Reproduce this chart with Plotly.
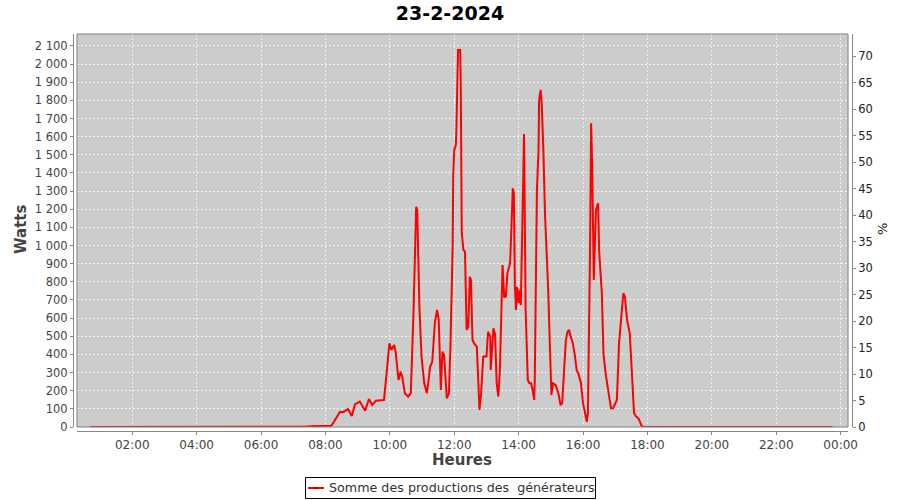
import plotly.graph_objects as go

DATE = "2024-02-23"

# Night (before production)
times_am = ["00:41", "01:00", "01:20", "01:40", "02:00", "02:20", "02:40", "03:00", "03:20", "03:40",
            "04:00", "04:20", "04:40", "05:00", "05:20", "05:40", "06:00", "06:20", "06:40", "07:00",
            "07:20", "07:40", "08:00", "08:10"]
values_am = [0, 0, 0, 0, 2, 0, 0, 0, 0, 0,
             2, 0, 0, 0, 0, 0, 0, 0, 0, 0,
             2, 5, 6, 5]

# Daytime production
times_day = ["08:14", "08:27", "08:33", "08:42", "08:49", "08:55", "09:04", "09:14", "09:21", "09:27",
             "09:34", "09:42", "09:49", "09:54", "09:59", "10:03", "10:08", "10:11", "10:16", "10:20",
             "10:23", "10:28", "10:34", "10:39", "10:44", "10:49", "10:51", "10:55", "10:59", "11:04",
             "11:09", "11:15", "11:19", "11:24", "11:28", "11:31", "11:35", "11:38", "11:41", "11:46",
             "11:50", "11:53", "11:57", "11:58", "12:00", "12:03", "12:04", "12:07", "12:11", "12:12",
             "12:14", "12:17", "12:20", "12:23", "12:26", "12:29", "12:31", "12:34", "12:37", "12:42",
             "12:45", "12:47", "12:50", "12:54", "13:00", "13:03", "13:07", "13:08", "13:13", "13:16",
             "13:19", "13:22", "13:25", "13:28", "13:30", "13:33", "13:36", "13:39", "13:44", "13:47",
             "13:49", "13:51", "13:53", "13:55", "13:57", "14:00", "14:02", "14:04", "14:07", "14:10",
             "14:13", "14:17", "14:20", "14:23", "14:26", "14:29", "14:30", "14:34", "14:37", "14:38",
             "14:41", "14:43", "14:46", "14:49", "14:55", "14:58", "15:00", "15:01", "15:04", "15:09",
             "15:14", "15:18", "15:21", "15:24", "15:28", "15:31", "15:34", "15:37", "15:41", "15:45",
             "15:48", "15:52", "15:56", "16:00", "16:05", "16:07", "16:09", "16:11", "16:13", "16:15",
             "16:17", "16:20", "16:22", "16:24", "16:28", "16:30", "16:35", "16:38", "16:42", "16:47",
             "16:52", "16:56", "17:03", "17:07", "17:12", "17:15", "17:18", "17:22", "17:27", "17:29",
             "17:32", "17:35", "17:39", "17:43", "17:46", "17:49"]
values_day = [20, 84, 82, 99, 60, 125, 140, 90, 154, 121,
              145, 149, 149, 298, 461, 424, 452, 408, 259, 305,
              277, 186, 167, 187, 627, 1214, 1196, 663, 388, 241,
              186, 332, 360, 580, 645, 590, 204, 415, 397, 158,
              186, 461, 994, 1380, 1527, 1555, 1647, 2078, 2078, 1913,
              1068, 976, 966, 535, 553, 828, 810, 480, 461, 443,
              167, 94, 186, 388, 388, 525, 498, 314, 544, 510,
              241, 167, 314, 718, 893, 718, 718, 847, 902, 1141,
              1316, 1288, 773, 645, 773, 682, 755, 672, 1159, 1615,
              645, 259, 241, 241, 204, 149, 259, 1306, 1527, 1800,
              1858, 1780, 1527, 1178, 755, 498, 241, 176, 241, 231,
              186, 121, 130, 296, 480, 525, 535, 498, 461, 388,
              314, 287, 241, 130, 57, 29, 76, 424, 976, 1674,
              1435, 810, 976, 1196, 1233, 966, 737, 406, 296, 186,
              103, 103, 149, 461, 663, 737, 718, 590, 516, 406,
              204, 76, 57, 48, 29, 6]

# Evening (after production)
times_pm = ["17:52", "18:00", "18:10", "18:20", "18:40", "19:00", "19:20", "19:40", "20:00", "20:20",
            "20:40", "21:00", "21:20", "21:40", "22:00", "22:20", "22:40", "23:00", "23:20", "23:40", "23:45"]
values_pm = [0, 0, 3, 2, 0, 0, 0, 0, 2, 0,
             0, 0, 0, 0, 0, 2, 0, 3, 0, 0, 0]

w_tick_vals = list(range(0, 2101, 100))
w_tick_text = ["0", "100", "200", "300", "400", "500", "600", "700", "800", "900",
               "1 000", "1 100", "1 200", "1 300", "1 400", "1 500", "1 600", "1 700", "1 800", "1 900",
               "2 000", "2 100"]
pct_tick_vals = list(range(0, 71, 5))

series_name = "Somme des productions des  générateurs"

times = [f"{DATE} {t}" for t in times_am + times_day + times_pm]
values = values_am + values_day + values_pm

FONT = "DejaVu Sans"
TICKC = "#444444"
AXC = "#888888"

fig = go.Figure()
fig.add_trace(go.Scatter(
    x=times, y=values, mode="lines",
    line=dict(color="#ff0000", width=2),
    name=series_name, showlegend=False,
))
fig.add_trace(go.Scatter(x=[None], y=[None], yaxis="y2", showlegend=False, hoverinfo="skip"))

PW = 779.0
PH = 397.0


def px(x):
    return (x - 73) / PW


def py(y):
    return (431 - y) / PH


fig.update_layout(
    width=900, height=500,
    margin=dict(l=73, r=48, t=34, b=69, autoexpand=False),
    paper_bgcolor="white",
    plot_bgcolor="#cccccc",
    font=dict(family=FONT, size=12, color=TICKC),
    title=dict(text="<b>23-2-2024</b>", x=0.5, xref="container", xanchor="center",
               y=1 - 13 / 500, yref="container", yanchor="middle",
               font=dict(family=FONT, size=19, color="#000000")),
    xaxis=dict(
        type="date",
        domain=[4 / PW, 775 / PW],
        anchor="free", position=0,
        range=[f"{DATE} 00:17", "2024-02-24 00:13:40"],
        tick0=f"{DATE} 00:00", dtick=7200000, tickformat="%H:%M",
        showline=True, linecolor=AXC, linewidth=1,
        ticks="outside", ticklen=3, tickcolor=AXC,
        showgrid=True, gridcolor="#f2f2f2", griddash="2px,2px", gridwidth=1,
        zeroline=False, tickfont=dict(size=12, color=TICKC), automargin=False,
    ),
    yaxis=dict(
        domain=[4 / PH, 1],
        anchor="free", position=0,
        range=[0, 2166],
        tickmode="array", tickvals=w_tick_vals, ticktext=w_tick_text,
        showline=True, linecolor=AXC, linewidth=1,
        ticks="outside", ticklen=3, tickcolor=AXC,
        showgrid=True, gridcolor="#f2f2f2", griddash="2px,2px", gridwidth=1,
        zeroline=False, tickfont=dict(size=11.5, color=TICKC), automargin=False,
    ),
    yaxis2=dict(
        overlaying="y", side="right",
        anchor="free", position=1,
        range=[0, 74.15],
        tickmode="array", tickvals=pct_tick_vals,
        showline=True, linecolor=AXC, linewidth=1,
        ticks="outside", ticklen=3, tickcolor=AXC,
        showgrid=False, zeroline=False,
        tickfont=dict(size=11.5, color="#222222"), automargin=False,
    ),
    showlegend=False,
    shapes=[
        dict(type="rect", xref="x domain", yref="y domain", x0=0, x1=1, y0=0, y1=1,
             line=dict(color="#808080", width=1), fillcolor="rgba(0,0,0,0)", layer="above"),
        # legend box
        dict(type="rect", xref="paper", yref="paper", x0=px(305.5), x1=px(595.5), y0=py(477.5), y1=py(498.5),
             line=dict(color="#000000", width=1), fillcolor="white"),
        dict(type="line", xref="paper", yref="paper", x0=px(308), x1=px(324), y0=py(488), y1=py(488),
             line=dict(color="#ff0000", width=2)),
        dict(type="rect", xref="paper", yref="paper", x0=px(315), x1=px(317), y0=py(487), y1=py(489),
             line=dict(color="#880000", width=0), fillcolor="#880000"),
    ],
    annotations=[
        dict(text="<b>Watts</b>", xref="paper", yref="paper",
             x=px(21), y=py(230), textangle=-90, showarrow=False,
             xanchor="center", yanchor="middle", font=dict(family=FONT, size=15, color="#444444")),
        dict(text="<b>Heures</b>", xref="paper", yref="paper",
             x=px(462), y=py(460), showarrow=False,
             xanchor="center", yanchor="middle", font=dict(family=FONT, size=15, color="#444444")),
        dict(text="%", xref="paper", yref="paper",
             x=px(883), y=py(229), textangle=-90, showarrow=False,
             xanchor="center", yanchor="middle", font=dict(family=FONT, size=13, color="#222222")),
        dict(text=series_name.replace("  ", "\u00a0 "), xref="paper", yref="paper",
             x=px(327), y=py(487.5), showarrow=False,
             xanchor="left", yanchor="middle", font=dict(family=FONT, size=12.7, color="#333333")),
    ],
)

fig.write_html("out.html",
               config={"displayModeBar": False},
               post_script="document.body.style.margin='0';document.body.style.overflow='hidden';")
